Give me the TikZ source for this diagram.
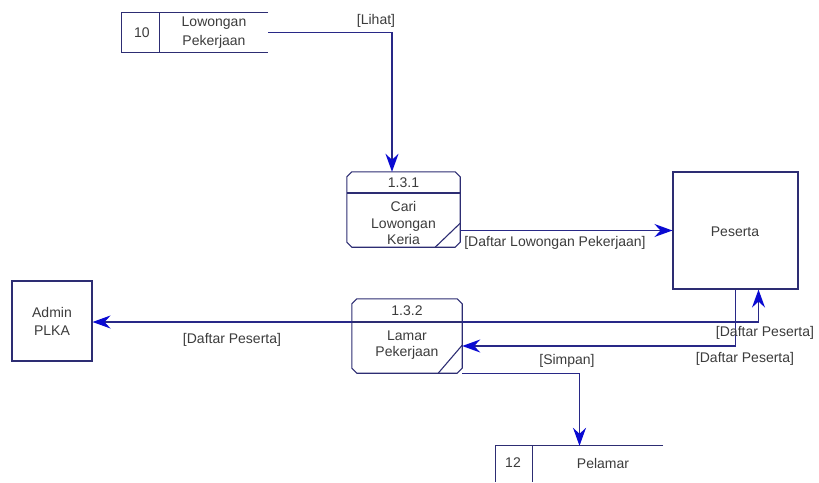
\documentclass[tikz,border=0pt]{standalone}
\usepackage{fontspec}
\setmainfont{Liberation Sans}
\usetikzlibrary{arrows.meta}
\definecolor{edge}{RGB}{45,45,115}
\definecolor{flow}{RGB}{40,40,135}
\definecolor{tipblue}{RGB}{10,10,210}
\definecolor{ink}{RGB}{60,60,60}
% outline of a process box with cut corners
\newcommand\procoutline[1]{%
  \draw[boxline] ([xshift=5pt]#1.north west) -- ([xshift=-5pt]#1.north east)
    -- ([yshift=-5pt]#1.north east) -- ([yshift=5pt]#1.south east)
    -- ([xshift=-5pt]#1.south east) -- ([xshift=5pt]#1.south west)
    -- ([yshift=5pt]#1.south west) -- ([yshift=-5pt]#1.north west) -- cycle;}
\tikzset{flowtip/.tip={Stealth[length=18pt,width=13pt,inset=6pt,color=tipblue,fill=tipblue]}}
\begin{document}
\begin{tikzpicture}[x=1pt,y=-1pt,
  every node/.style={font=\fontsize{14}{16}\selectfont, text=ink, inner sep=0pt},
  boxline/.style={draw=edge, line width=1.1pt},
  flowline/.style={draw=flow, line width=1.2pt, -flowtip},
  procbox/.style={rectangle, inner sep=0pt},
  entity/.style={rectangle, draw=edge, line width=1.1pt, inner sep=0pt},
  storebox/.style={rectangle, inner sep=0pt},
  flowlabel/.style={font=\fontsize{14}{16}\selectfont}
]
\fill[white] (0,0) rectangle (819,482);
\useasboundingbox (0,0) rectangle (819,482);

% processes
\node[procbox, minimum width=113pt, minimum height=75pt] (p131) at (403.5,209.5) {};
\procoutline{p131}
\draw[boxline] (p131.west |- 0,193) -- (p131.east |- 0,193);
\draw[boxline] ([xshift=-25pt]p131.south east) -- ([yshift=24pt]p131.south east);
\node (p131id) at (403.5,183) {1.3.1};
\node[align=center, font=\fontsize{14}{16.5}\selectfont] (p131name) at (403.5,223) {Cari\\Lowongan\\Keria};

\node[procbox, minimum width=110pt, minimum height=74pt] (p132) at (407,336) {};
\procoutline{p132}
\draw[boxline] (p132.west |- 0,322) -- (p132.east |- 0,322);
\draw[boxline] ([xshift=-24pt]p132.south east) -- ([yshift=28pt]p132.south east);
\node (p132id) at (407,311) {1.3.2};
\node[align=center, font=\fontsize{14}{16}\selectfont] (p132name) at (407,345.5) {Lamar\\Pekerjaan};

% external entities
\node[entity, minimum width=80pt, minimum height=80pt, align=center,
  font=\fontsize{14}{18}\selectfont] (admin) at (52,321) {Admin\\PLKA};
\node[entity, minimum width=125pt, minimum height=117pt] (peserta) at (735.5,230.5) {};
\node (pesertaname) at (735,232) {Peserta};

% data stores
\node[storebox, minimum width=146pt, minimum height=39pt] (ds10) at (195,32.5) {};
\draw[boxline] (ds10.north east) -- (ds10.north west) -- (ds10.south west) -- (ds10.south east);
\draw[boxline] ([xshift=38pt]ds10.north west) -- ([xshift=38pt]ds10.south west);
\node (ds10id) at (142,33) {10};
\node[align=center, font=\fontsize{14}{19}\selectfont] (ds10name) at (214,32.5) {Lowongan\\Pekerjaan};

\node[storebox, minimum width=167pt, minimum height=36pt] (ds12) at (579.5,464) {};
\draw[boxline] (ds12.north east) -- (ds12.north west) -- (ds12.south west);
\draw[boxline] ([xshift=37pt]ds12.north west) -- ([xshift=37pt]ds12.south west);
\node (ds12id) at (513,463) {12};
\node (ds12name) at (603,463) {Pelamar};

% data flows
\draw[flowline] (ds10.east) -| ([xshift=-11.5pt]p131.north);
\draw[flowline] (p131.east |- peserta.west) -- (peserta.west);
\draw[flowline] ([yshift=14pt]p132.west) coordinate (toadmin) -- (toadmin -| admin.east);
\draw[flowline] ([yshift=14pt]p132.east) -| ([xshift=23pt]peserta.south);
\draw[flowline] (peserta.south) |- ([yshift=-10pt]p132.east);
\draw[flowline] (p132.south east) -| (ds12.north);

% flow labels
\node[flowlabel] (lblihat) at (376,21) {[Lihat]};
\node[flowlabel] (lbdaftarlow) at (555,243) {[Daftar Lowongan Pekerjaan]};
\node[flowlabel] (lbadmin) at (232,340) {[Daftar Peserta]};
\node[flowlabel] (lbpesertaup) at (765,333) {[Daftar Peserta]};
\node[flowlabel] (lbpesertadown) at (745,359) {[Daftar Peserta]};
\node[flowlabel] (lbsimpan) at (567,361) {[Simpan]};
\end{tikzpicture}
\end{document}
